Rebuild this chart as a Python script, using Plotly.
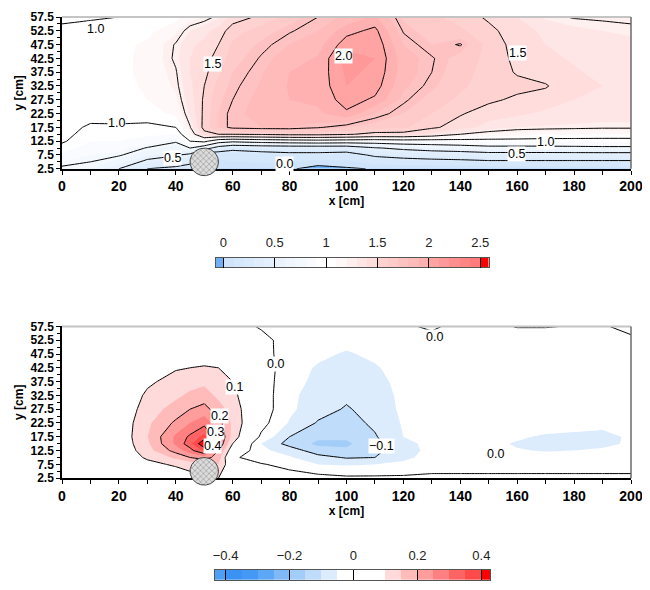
import numpy as np
import plotly.graph_objects as go

# ---------------- data ----------------
x_cm = [0, 10, 20, 30, 40, 45, 50, 55, 60, 70, 80, 90, 100, 110, 120, 130, 140, 150, 160, 170, 180, 190, 200]
y_cm = [2.5, 7.5, 10, 12.5, 15, 17.5, 22.5, 27.5, 32.5, 37.5, 42.5, 47.5, 52.5, 57.5]

# top panel field, one list per x column (values along y_cm)
u_cols = [
    [0.72, 0.88, 0.95, 1.02, 1.04, 1.05, 1.06, 1.06, 1.06, 1.06, 1.05, 1.04, 1.02, 0.98],
    [0.70, 0.80, 0.85, 0.90, 0.95, 0.98, 1.05, 1.07, 1.07, 1.07, 1.07, 1.06, 1.03, 0.99],
    [0.50, 0.77, 0.84, 0.90, 0.94, 0.98, 1.06, 1.08, 1.08, 1.08, 1.08, 1.07, 1.04, 1.00],
    [0.25, 0.62, 0.74, 0.85, 0.92, 0.97, 1.06, 1.10, 1.11, 1.12, 1.12, 1.12, 1.07, 1.00],
    [0.20, 0.52, 0.65, 0.77, 0.90, 1.00, 1.12, 1.18, 1.22, 1.24, 1.27, 1.26, 1.18, 1.06],
    [0.15, 0.45, 0.75, 1.00, 1.15, 1.24, 1.32, 1.36, 1.38, 1.40, 1.40, 1.38, 1.30, 1.16],
    [0.05, 0.10, 0.60, 1.05, 1.45, 1.55, 1.53, 1.52, 1.50, 1.47, 1.46, 1.43, 1.36, 1.20],
    [0.05, 0.12, 0.40, 0.85, 1.50, 1.70, 1.70, 1.68, 1.64, 1.58, 1.54, 1.50, 1.45, 1.28],
    [0.05, 0.15, 0.30, 0.80, 1.50, 1.78, 1.78, 1.75, 1.73, 1.70, 1.66, 1.62, 1.55, 1.45],
    [0.04, 0.18, 0.33, 0.85, 1.52, 1.80, 1.83, 1.83, 1.81, 1.79, 1.76, 1.72, 1.65, 1.52],
    [0.02, 0.20, 0.35, 0.88, 1.55, 1.80, 1.87, 1.90, 1.91, 1.90, 1.86, 1.80, 1.74, 1.65],
    [-0.06, 0.20, 0.35, 0.90, 1.55, 1.76, 1.88, 1.92, 1.93, 1.93, 1.91, 1.86, 1.80, 1.75],
    [-0.02, 0.18, 0.35, 0.88, 1.52, 1.70, 1.98, 2.05, 2.10, 2.12, 2.15, 2.06, 1.96, 1.82],
    [0.01, 0.28, 0.48, 0.87, 1.45, 1.65, 1.80, 1.98, 2.05, 2.08, 2.10, 2.08, 2.03, 1.92],
    [0.02, 0.32, 0.55, 0.90, 1.45, 1.62, 1.70, 1.77, 1.82, 1.85, 1.85, 1.80, 1.74, 1.68],
    [0.02, 0.35, 0.60, 0.90, 1.38, 1.52, 1.60, 1.66, 1.72, 1.75, 1.76, 1.70, 1.65, 1.62],
    [0.02, 0.37, 0.63, 0.92, 1.25, 1.45, 1.51, 1.58, 1.62, 1.64, 1.66, 1.76, 1.62, 1.56],
    [0.03, 0.40, 0.68, 0.93, 1.18, 1.36, 1.45, 1.52, 1.55, 1.56, 1.57, 1.56, 1.53, 1.48],
    [0.03, 0.40, 0.68, 0.93, 1.15, 1.30, 1.42, 1.48, 1.53, 1.49, 1.47, 1.46, 1.44, 1.40],
    [0.03, 0.40, 0.68, 0.93, 1.12, 1.29, 1.38, 1.45, 1.51, 1.45, 1.42, 1.40, 1.38, 1.28],
    [0.03, 0.40, 0.69, 0.93, 1.11, 1.28, 1.36, 1.40, 1.42, 1.41, 1.39, 1.37, 1.33, 1.24],
    [0.03, 0.40, 0.70, 0.93, 1.10, 1.27, 1.35, 1.38, 1.40, 1.38, 1.36, 1.34, 1.30, 1.23],
    [0.03, 0.40, 0.70, 0.93, 1.10, 1.27, 1.35, 1.38, 1.38, 1.37, 1.35, 1.33, 1.28, 1.22],
]

# bottom panel field, one list per x column (values along y_cm)
v_cols = [
    [0.01, 0.02, 0.02, 0.025, 0.03, 0.03, 0.03, 0.03, 0.03, 0.03, 0.025, 0.025, 0.02, 0.02],
    [0.015, 0.025, 0.03, 0.035, 0.04, 0.04, 0.04, 0.04, 0.035, 0.035, 0.03, 0.03, 0.025, 0.02],
    [0.02, 0.04, 0.05, 0.055, 0.06, 0.06, 0.06, 0.055, 0.05, 0.045, 0.04, 0.03, 0.025, 0.02],
    [0.03, 0.08, 0.11, 0.13, 0.14, 0.148, 0.14, 0.125, 0.11, 0.09, 0.07, 0.05, 0.03, 0.02],
    [0.05, 0.11, 0.16, 0.22, 0.26, 0.26, 0.21, 0.17, 0.14, 0.12, 0.095, 0.06, 0.04, 0.02],
    [0.08, 0.12, 0.20, 0.28, 0.33, 0.31, 0.25, 0.20, 0.16, 0.13, 0.10, 0.07, 0.04, 0.02],
    [0.10, 0.15, 0.22, 0.36, 0.45, 0.37, 0.28, 0.22, 0.17, 0.14, 0.105, 0.07, 0.04, 0.02],
    [0.10, 0.15, 0.18, 0.20, 0.25, 0.26, 0.22, 0.17, 0.14, 0.12, 0.10, 0.07, 0.04, 0.02],
    [0.06, 0.05, 0.01, 0.06, 0.10, 0.13, 0.14, 0.13, 0.115, 0.10, 0.08, 0.06, 0.04, 0.02],
    [0.04, 0.005, -0.03, -0.04, -0.05, -0.01, 0.02, 0.03, 0.03, 0.03, 0.03, 0.02, 0.015, -0.005],
    [0.03, -0.02, -0.045, -0.07, -0.12, -0.10, -0.055, -0.04, -0.04, -0.035, -0.03, -0.025, -0.02, -0.01],
    [0.02, -0.05, -0.08, -0.13, -0.16, -0.14, -0.105, -0.08, -0.07, -0.06, -0.055, -0.04, -0.025, -0.01],
    [0.01, -0.055, -0.105, -0.14, -0.16, -0.14, -0.12, -0.105, -0.09, -0.075, -0.065, -0.055, -0.035, -0.015],
    [0.01, -0.05, -0.10, -0.115, -0.115, -0.105, -0.09, -0.08, -0.07, -0.065, -0.055, -0.04, -0.025, -0.01],
    [0.01, -0.04, -0.06, -0.065, -0.06, -0.05, -0.045, -0.04, -0.04, -0.035, -0.03, -0.025, -0.02, -0.01],
    [0.01, -0.02, -0.035, -0.04, -0.04, -0.035, -0.03, -0.025, -0.02, -0.02, -0.02, -0.02, -0.02, 0.01],
    [0.01, -0.02, -0.03, -0.035, -0.035, -0.03, -0.025, -0.02, -0.02, -0.02, -0.02, -0.02, -0.02, -0.02],
    [0.01, -0.02, -0.03, -0.04, -0.042, -0.035, -0.025, -0.02, -0.02, -0.02, -0.02, -0.02, -0.02, -0.01],
    [0.01, -0.02, -0.035, -0.048, -0.053, -0.045, -0.03, -0.02, -0.02, -0.02, -0.02, -0.02, -0.02, 0.002],
    [0.01, -0.02, -0.04, -0.052, -0.058, -0.055, -0.03, -0.02, -0.02, -0.02, -0.02, -0.02, -0.02, 0.002],
    [0.01, -0.02, -0.04, -0.05, -0.058, -0.058, -0.035, -0.02, -0.02, -0.02, -0.02, -0.02, -0.02, -0.002],
    [0.01, -0.02, -0.035, -0.045, -0.058, -0.06, -0.04, -0.02, -0.02, -0.02, -0.02, -0.02, -0.02, -0.005],
    [0.01, -0.02, -0.03, -0.04, -0.045, -0.045, -0.03, -0.02, -0.02, -0.02, -0.02, -0.02, -0.01, 0.015],
]

# contour level settings
u_fill_levels = dict(start=0.0, end=2.5, size=0.1)
u_line_levels = dict(start=0.0, end=2.5, size=0.25)
v_fill_levels = dict(start=-0.4, end=0.4, size=0.05)
v_line_levels = dict(start=-0.4, end=0.4, size=0.1)

# band colours: below start, each band, above end
u_band_colors = [
    "#6eb0f6",
    "#cfe4fb", "#d4e7fb", "#d9eafc", "#dfedfc", "#e4f0fd",
    "#eaf3fd", "#eff6fe", "#f4f9fe", "#f9fbff", "#ffffff",
    "#ffffff", "#fff8f8", "#fff0f0", "#ffe6e6", "#ffdddd",
    "#ffd2d2", "#ffcaca", "#ffc2c2", "#ffbaba", "#ffb1b1",
    "#ffa3a3", "#ff9898", "#ff8e8e", "#ff8484", "#ff7a7a",
    "#ff0000",
]
v_band_colors = [
    "#4d9ff5",
    "#3a92f4", "#4499f5", "#5ca8f6", "#7fbaf7", "#a3cdf9", "#bfdcfa", "#dcecfc", "#ffffff",
    "#ffffff", "#ffffff", "#ffdada", "#ffbaba", "#ff9c9c", "#ff8080", "#ff6464", "#ff4a4a",
    "#ff0000",
]

u_cbar_ticks = [0, 0.5, 1, 1.5, 2, 2.5]
u_cbar_text = ["0", "0.5", "1", "1.5", "2", "2.5"]
v_cbar_ticks = [-0.4, -0.2, 0, 0.2, 0.4]
v_cbar_text = ["\u22120.4", "\u22120.2", "0", "0.2", "0.4"]

x_ticks = list(range(0, 201, 20))
y_ticks = [2.5 + 5 * i for i in range(12)]

# contour label texts and where they sit
u_labels = [("1.0", 11.6, 53.2), ("1.5", 52.8, 40.5), ("1.0", 19.0, 19.0), ("0.5", 38.8, 6.5),
            ("0.0", 78.1, 4.2), ("2.0", 98.9, 43.2), ("1.5", 160.2, 44.4), ("1.0", 169.8, 12.1),
            ("0.5", 159.8, 7.8)]
v_labels = [("0.0", 74.9, 43.9), ("0.1", 60.6, 35.6), ("0.2", 55.5, 25.0), ("0.3", 54.1, 19.4),
            ("0.4", 52.8, 14.3), ("\u22120.1", 112.4, 14.3), ("0.0", 131.1, 53.6), ("0.0", 152.2, 11.4)]

# cylinder (centre and radius, cm)
cyl_x, cyl_y, cyl_r = 50.0, 5.0, 5.0

# ---------------- layout geometry (page pixels) ----------------
BODY = 8                       # default page margin around the figure div
W, H = 650 - BODY, 590 - BODY
ML, MR, MT, MB = 62 - BODY, 19, 12 - BODY, 2
PW, PH = W - ML - MR, H - MT - MB


def pxx(page_x):
    return (page_x - BODY - ML) / PW


def pyy(page_y):
    return (MT + PH - (page_y - BODY)) / PH


top_dom = [pyy(167), pyy(12)]
bot_dom = [pyy(483), pyy(328)]
EXT = 20  # px of extra room below each panel for the cylinder
ylo_ext = 2.5 - EXT * 55 / 155
cb_top = dict(x=[pxx(216), pxx(488.5)], y=[pyy(267.7), pyy(257.7)], rng=[-0.071, 2.581])
cb_bot = dict(x=[pxx(215), pxx(490)], y=[pyy(586.7), pyy(576.7)], rng=[-0.433, 0.427])
FONT = "Liberation Sans"


def disc_scale(colors):
    n = len(colors)
    cs = []
    for i, c in enumerate(colors):
        cs.append([i / n, c])
        cs.append([(i + 1) / n, c])
    return cs


u_z = np.array(u_cols).T
v_z = np.array(v_cols).T

fig = go.Figure()


def add_panel(z, fill_lv, line_lv, colors, xa, ya):
    fig.add_trace(go.Contour(
        x=x_cm, y=y_cm, z=z, xaxis=xa, yaxis=ya,
        autocontour=False, contours=dict(coloring="fill", showlines=False, **fill_lv),
        colorscale=disc_scale(colors), line=dict(width=0, smoothing=0),
        showscale=False, hoverinfo="skip"))
    fig.add_trace(go.Contour(
        x=x_cm, y=y_cm, z=z, xaxis=xa, yaxis=ya,
        autocontour=False, contours=dict(coloring="none", showlines=True, **line_lv),
        line=dict(color="black", width=1, smoothing=0), showscale=False, hoverinfo="skip"))


def add_cbar(fill_lv, colors, rng, xa, ya):
    # colour key: one cell per contour band, edges at the contour levels
    n_lv = int(round((fill_lv["end"] - fill_lv["start"]) / fill_lv["size"])) + 1
    levels = [fill_lv["start"] + i * fill_lv["size"] for i in range(n_lv)]
    edges = [rng[0]] + levels + [rng[1]]
    n = len(colors)
    fig.add_trace(go.Heatmap(
        x=edges, y=[0, 1], z=[list(range(n))], zmin=-0.5, zmax=n - 0.5,
        colorscale=disc_scale(colors), showscale=False, xaxis=xa, yaxis=ya, hoverinfo="skip"))


add_panel(u_z, u_fill_levels, u_line_levels, u_band_colors, "x", "y")
add_panel(v_z, v_fill_levels, v_line_levels, v_band_colors, "x2", "y2")

theta = np.linspace(0, 2 * np.pi, 120)
for xa, ya in (("x3", "y3"), ("x4", "y4")):
    fig.add_trace(go.Scatter(
        x=cyl_x + cyl_r * np.cos(theta), y=cyl_y + cyl_r * np.sin(theta),
        xaxis=xa, yaxis=ya, mode="lines", fill="toself",
        fillpattern=dict(shape="x", fgcolor="#555555", bgcolor="#dcdcdc", size=4, solidity=0.3),
        line=dict(color="#444444", width=1), hoverinfo="skip", showlegend=False))

add_cbar(u_fill_levels, u_band_colors, cb_top["rng"], "x5", "y5")
add_cbar(v_fill_levels, v_band_colors, cb_bot["rng"], "x6", "y6")

xa_common = dict(range=[0, 200], tickmode="array", tickvals=x_ticks, ticks="outside", ticklen=4,
                 tickwidth=1, tickcolor="black", showline=True, linecolor="black", linewidth=1.5,
                 showgrid=False, zeroline=False,
                 minor=dict(dtick=10, tick0=0, ticks="outside", ticklen=4, tickcolor="black"),
                 tickfont=dict(family=FONT, size=14, color="black", weight="bold"),
                 title=dict(text="x [cm]", standoff=0,
                            font=dict(family=FONT, size=12, color="black", weight="bold")))
ya_common = dict(range=[2.5, 57.5], tickmode="array", tickvals=y_ticks, ticktext=[f"{v:.1f}" for v in y_ticks],
                 ticks="outside", ticklen=4, tickwidth=1, tickcolor="black",
                 showline=True, linecolor="black", linewidth=1.5, showgrid=False, zeroline=False,
                 minor=dict(dtick=2.5, tick0=0, ticks="outside", ticklen=3, tickcolor="black"),
                 tickfont=dict(family=FONT, size=12, color="black", weight="bold"),
                 title=dict(text="y [cm]", standoff=4,
                            font=dict(family=FONT, size=12, color="black", weight="bold")))

hidden = dict(visible=False, showgrid=False, zeroline=False, fixedrange=True)


def cb_xaxis(cb, ticks, text, anchor):
    return dict(domain=cb["x"], anchor=anchor, range=cb["rng"], side="top", tickmode="array",
                tickvals=ticks, ticktext=text, ticks="inside", ticklen=10, tickwidth=1, tickcolor="black",
                showline=True, mirror=True, linecolor="#555555", linewidth=1, showgrid=False,
                zeroline=False, fixedrange=True, ticklabelstandoff=4,
                tickfont=dict(family=FONT, size=13, color="#222222"))


def cb_yaxis(cb, anchor):
    return dict(domain=cb["y"], anchor=anchor, range=[0, 1], showticklabels=False, ticks="",
                showline=True, mirror=True, linecolor="#555555", linewidth=1, showgrid=False,
                zeroline=False, fixedrange=True)


fig.update_layout(
    width=W, height=H, margin=dict(l=ML, r=MR, t=MT, b=MB),
    paper_bgcolor="white", plot_bgcolor="rgba(0,0,0,0)", showlegend=False,
    xaxis=dict(domain=[0, 1], anchor="y", **xa_common),
    yaxis=dict(domain=top_dom, anchor="x", **ya_common),
    xaxis2=dict(domain=[0, 1], anchor="y2", **xa_common),
    yaxis2=dict(domain=bot_dom, anchor="x2", **ya_common),
    xaxis3=dict(domain=[0, 1], anchor="y3", range=[0, 200], **hidden),
    yaxis3=dict(domain=[top_dom[0] - EXT / PH, top_dom[1]], anchor="x3", range=[ylo_ext, 57.5], **hidden),
    xaxis4=dict(domain=[0, 1], anchor="y4", range=[0, 200], **hidden),
    yaxis4=dict(domain=[bot_dom[0] - EXT / PH, bot_dom[1]], anchor="x4", range=[ylo_ext, 57.5], **hidden),
    xaxis5=cb_xaxis(cb_top, u_cbar_ticks, u_cbar_text, "y5"),
    yaxis5=cb_yaxis(cb_top, "x5"),
    xaxis6=cb_xaxis(cb_bot, v_cbar_ticks, v_cbar_text, "y6"),
    yaxis6=cb_yaxis(cb_bot, "x6"),
)

shapes = []
for ax in ("", "2"):
    shapes.append(dict(type="line", xref=f"x{ax} domain", yref=f"y{ax} domain", x0=0, x1=1, y0=1, y1=1,
                       line=dict(color="#c4c4c4", width=2)))
    shapes.append(dict(type="line", xref=f"x{ax} domain", yref=f"y{ax} domain", x0=1, x1=1, y0=0, y1=1,
                       line=dict(color="#6a6a6a", width=1.5)))
fig.update_layout(shapes=shapes)

ann = []
for labels, xr, yr in ((u_labels, "x", "y"), (v_labels, "x2", "y2")):
    for t, lx, ly in labels:
        ann.append(dict(text=t, x=lx, y=ly, xref=xr, yref=yr, showarrow=False, bgcolor="white",
                        borderpad=0, font=dict(family=FONT, size=12.5, color="black")))
fig.update_layout(annotations=ann)

fig.write_html("out.html")
